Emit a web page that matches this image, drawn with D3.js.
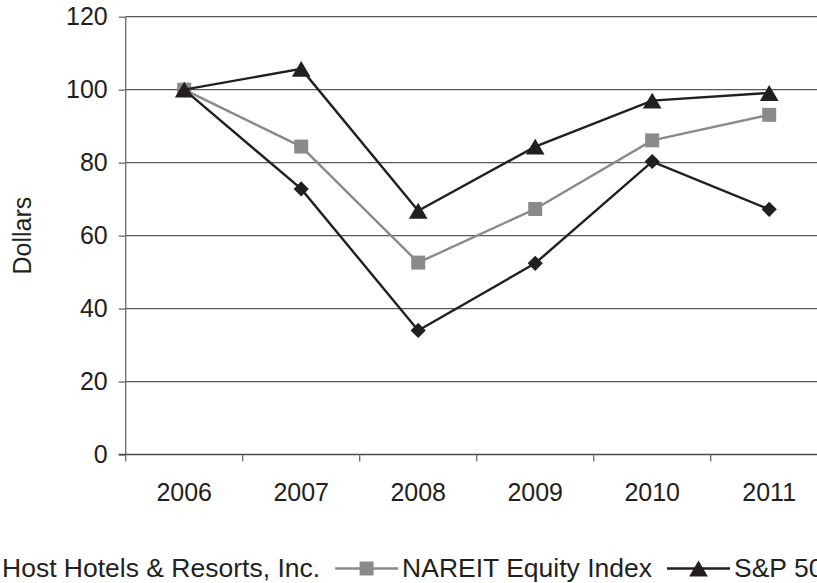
<!DOCTYPE html>
<html>
<head>
<meta charset="utf-8">
<script src="https://cdn.jsdelivr.net/npm/d3@7"></script>
<style>
  body { margin: 0; background: #fff; }
  svg { display: block; font-family: "Liberation Sans", Arial, Helvetica, sans-serif; }
</style>
</head>
<body>
<svg width="817" height="583"></svg>
<script>
const years = ["2006", "2007", "2008", "2009", "2010", "2011"];
const hostValues = [100, 72.8, 34.0, 52.4, 80.3, 67.2];
const nareitValues = [100, 84.4, 52.6, 67.3, 86.1, 93.1];
const spValues = [100, 105.7, 66.8, 84.4, 97.0, 99.1];
const yTicks = [0, 20, 40, 60, 80, 100, 120];
const seriesNames = ["Host Hotels & Resorts, Inc.", "NAREIT Equity Index", "S&P 500"];

const svg = d3.select("svg");
const ink = "#231f20";
const grey = "#8a8a8a";

// plot area
const plotLeft = 125.7, plotTop = 16.7, plotBottom = 454.5, plotRight = 827.7;

const x = d3.scaleBand().domain(years).range([plotLeft, plotRight]);
const y = d3.scaleLinear().domain([0, 120]).range([plotBottom, plotTop]);

// centered (bounding box) triangle, like the spreadsheet marker
const triangle = {
  draw(ctx, size) {
    const w = Math.sqrt(size), h = w * 0.85;
    ctx.moveTo(0, -h / 2);
    ctx.lineTo(w / 2, h / 2);
    ctx.lineTo(-w / 2, h / 2);
    ctx.closePath();
  }
};

const series = [
  {name: seriesNames[0], values: hostValues, color: ink, symbol: d3.symbolSquare, size: 115, rotate: 45},
  {name: seriesNames[1], values: nareitValues, color: grey, symbol: d3.symbolSquare, size: 196, rotate: 0},
  {name: seriesNames[2], values: spValues, color: ink, symbol: triangle, size: 350, rotate: 0}
];

// gridlines
svg.append("g")
  .selectAll("line")
  .data(yTicks.filter(d => d > 0))
  .enter().append("line")
  .attr("x1", plotLeft).attr("x2", 817)
  .attr("y1", d => y(d)).attr("y2", d => y(d))
  .attr("stroke", "#5a5a5a").attr("stroke-width", 1.2);

// y axis
const yAxis = d3.axisLeft(y).tickValues(yTicks).tickSize(7).tickPadding(11);
const gy = svg.append("g").attr("transform", `translate(${plotLeft},0)`).call(yAxis);
gy.select(".domain").attr("stroke", "#6a6a6a").attr("stroke-width", 1.3).attr("d", `M0,${plotTop}V${plotBottom}`);
gy.selectAll(".tick line").attr("stroke", "#6a6a6a").attr("stroke-width", 1.3);
gy.selectAll("text").attr("font-size", 25).attr("fill", ink).attr("font-family", null);

// x axis: ticks between categories
const gx = svg.append("g");
gx.append("line")
  .attr("x1", plotLeft - 7).attr("x2", 817)
  .attr("y1", plotBottom).attr("y2", plotBottom)
  .attr("stroke", "#4a4a4a").attr("stroke-width", 1.3);
gx.selectAll(".tk")
  .data(years)
  .enter().append("line")
  .attr("class", "tk")
  .attr("x1", d => x(d)).attr("x2", d => x(d))
  .attr("y1", plotBottom).attr("y2", plotBottom + 7)
  .attr("stroke", "#6a6a6a").attr("stroke-width", 1.3);
gx.selectAll("text")
  .data(years)
  .enter().append("text")
  .attr("x", d => x(d) + x.bandwidth() / 2)
  .attr("y", 501)
  .attr("text-anchor", "middle")
  .attr("font-size", 25)
  .attr("fill", ink)
  .text(d => d);

// y title
svg.append("text")
  .attr("transform", `translate(31,${(plotTop + plotBottom) / 2}) rotate(-90)`)
  .attr("text-anchor", "middle")
  .attr("font-size", 25)
  .attr("fill", ink)
  .text("Dollars");

const line = d3.line()
  .x((d, i) => x(years[i]) + x.bandwidth() / 2)
  .y(d => y(d));

const groups = svg.selectAll(".series")
  .data(series)
  .enter().append("g")
  .attr("class", "series");

groups.append("path")
  .attr("d", d => line(d.values))
  .attr("fill", "none")
  .attr("stroke", d => d.color)
  .attr("stroke-width", 2.4);

groups.selectAll(".mk")
  .data(d => d.values.map((v, i) => ({v, i, s: d})))
  .enter().append("path")
  .attr("class", "mk")
  .attr("transform", d => `translate(${x(years[d.i]) + x.bandwidth() / 2},${y(d.v)}) rotate(${d.s.rotate})`)
  .attr("d", d => d3.symbol(d.s.symbol, d.s.size)())
  .attr("fill", d => d.s.color);

// legend (wider than the page, cropped at both ends like the source figure)
const legend = svg.append("g");
const lineLen = 63, gapAfterLine = 4, gapAfterText = 15;
const legendY = 568.5;
let cursor = 2;
series.forEach(s => {
  const item = legend.append("g");
  item.append("line")
    .attr("x1", cursor - gapAfterLine - lineLen).attr("x2", cursor - gapAfterLine)
    .attr("y1", legendY).attr("y2", legendY)
    .attr("stroke", s.color).attr("stroke-width", 2.4);
  item.append("path")
    .attr("transform", `translate(${cursor - gapAfterLine - lineLen / 2},${legendY}) rotate(${s.rotate})`)
    .attr("d", d3.symbol(s.symbol, s.size)())
    .attr("fill", s.color);
  const t = item.append("text")
    .attr("x", cursor)
    .attr("y", 577)
    .attr("font-size", 26.5)
    .attr("fill", ink)
    .text(s.name);
  cursor += t.node().getComputedTextLength() + gapAfterText + lineLen + gapAfterLine;
});
</script>
</body>
</html>
